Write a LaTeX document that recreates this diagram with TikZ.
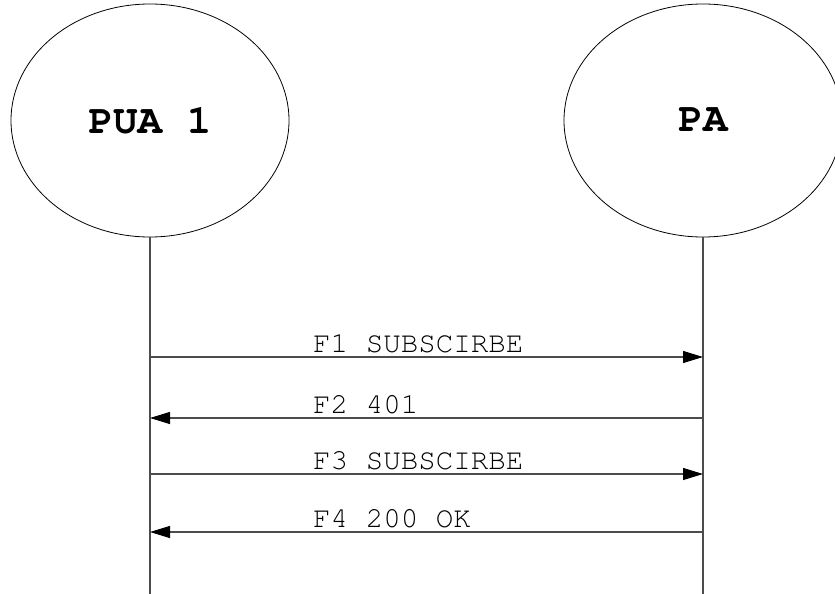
\documentclass[tikz,border=0pt]{standalone}
\usepackage[T1]{fontenc}
\usetikzlibrary{arrows.meta,shapes.geometric}
\newcommand{\courierfont}{\fontencoding{T1}\fontfamily{pcr}\selectfont}
\begin{document}
\begin{tikzpicture}[x=1pt,y=-1pt,
  party/.style={draw=black,line width=0.8pt,ellipse,minimum width=278pt,minimum height=233pt,inner sep=0pt,
    font=\courierfont\bfseries\fontsize{41}{41}\selectfont},
  lifeline/.style={draw=black!70,line width=1.2pt},
  msg/.style={draw=black!70,line width=1.1pt,-{Triangle[length=20pt,width=12pt,color=black,fill=black]}},
  msglabel/.style={anchor=base west,inner sep=0pt,font=\courierfont\fontsize{29.2}{29.2}\selectfont}]
  \clip (0,0) rectangle (835,594);
  % participants
  \node[party] (pua) at (150,120.5) {PUA 1};
  \node[party] (pa)  at (703,120.5) {PA};
  % lifelines
  \coordinate (puaend) at (150,594);
  \coordinate (paend)  at (703,594);
  \draw[lifeline] (pua.south) -- (puaend);
  \draw[lifeline] (pa.south) -- (paend);
  % message end points on the lifelines
  \coordinate (u1) at (150,357); \coordinate (p1) at (703,357);
  \coordinate (u2) at (150,418); \coordinate (p2) at (703,418);
  \coordinate (u3) at (150,474); \coordinate (p3) at (703,474);
  \coordinate (u4) at (150,532); \coordinate (p4) at (703,532);
  % messages
  \draw[msg] (u1) -- (p1);
  \draw[msg] (p2) -- (u2);
  \draw[msg] (u3) -- (p3);
  \draw[msg] (p4) -- (u4);
  \node[msglabel] (m1) at (313,352) {F1 SUBSCIRBE};
  \node[msglabel] (m2) at (313,413) {F2 401};
  \node[msglabel] (m3) at (313,469) {F3 SUBSCIRBE};
  \node[msglabel] (m4) at (313,527) {F4 200 OK};
\end{tikzpicture}
\end{document}
